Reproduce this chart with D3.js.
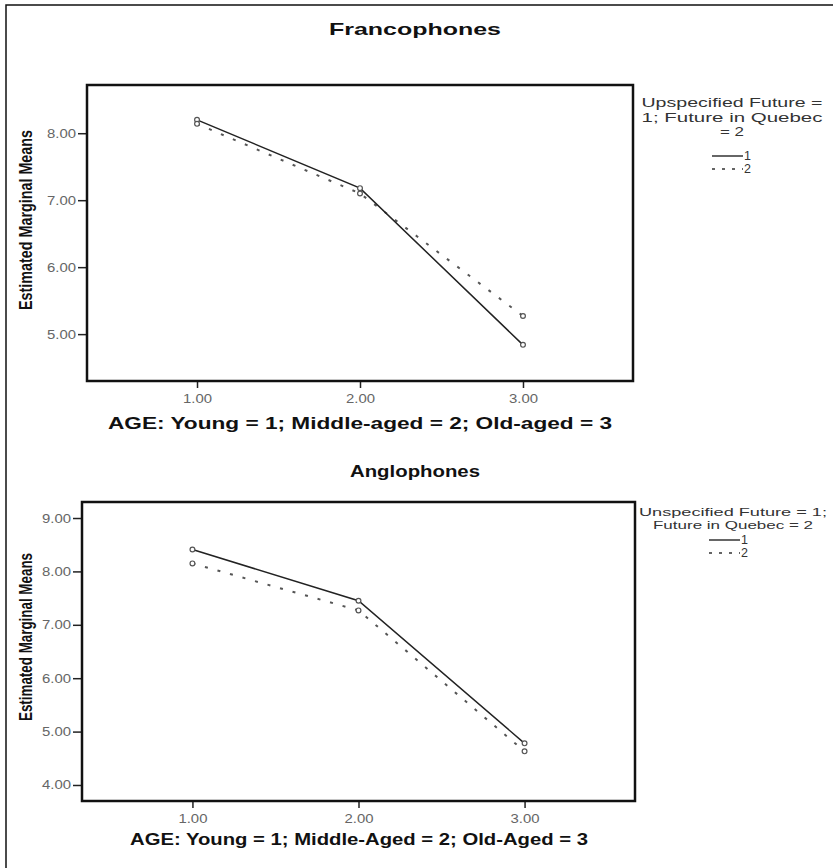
<!DOCTYPE html>
<html>
<head>
<meta charset="utf-8">
<script src="https://cdn.jsdelivr.net/npm/d3@7"></script>
<style>
  body { margin: 0; background: #fff; }
  text { font-family: "Liberation Sans", Arial, sans-serif; }
</style>
</head>
<body>
<div id="chart"></div>
<script>
// estimated marginal means
var ageTicks = [1, 2, 3];
var francoFuture1 = [8.20, 7.18, 4.84];
var francoFuture2 = [8.14, 7.10, 5.27];
var angloFuture1 = [8.41, 7.45, 4.78];
var angloFuture2 = [8.15, 7.27, 4.63];
var francoYTicks = [5, 6, 7, 8];
var angloYTicks = [4, 5, 6, 7, 8, 9];

var svg_width = 833, svg_height = 868;

var svg = d3.select("#chart")
    .append("svg")
    .attr("width", svg_width)
    .attr("height", svg_height);

// outer frame of the output pane (right/bottom are cut off)
svg.append("rect")
    .attr("x", 6).attr("y", 5)
    .attr("width", 900).attr("height", 900)
    .attr("fill", "none")
    .attr("stroke", "#111")
    .attr("stroke-width", 1.5);

function drawPanel(p) {
    var x = d3.scaleLinear().domain(p.xDomain).range([p.left, p.right]);
    var y = d3.scaleLinear().domain(p.yDomain).range([p.bottom, p.top]);

    svg.append("text")
        .attr("x", 415).attr("y", p.titleY)
        .attr("text-anchor", "middle")
        .attr("font-size", 17)
        .attr("font-weight", "bold")
        .attr("textLength", p.titleLen)
        .attr("lengthAdjust", "spacingAndGlyphs")
        .attr("fill", "#111")
        .text(p.title);

    var yAxis = svg.append("g")
        .attr("transform", "translate(" + p.left + ",0)")
        .call(d3.axisLeft(y).tickValues(p.yTicks).tickFormat(d3.format(".2f")).tickSize(9).tickPadding(2));
    yAxis.select(".domain").remove();

    var xAxis = svg.append("g")
        .attr("transform", "translate(0," + p.bottom + ")")
        .call(d3.axisBottom(x).tickValues(ageTicks).tickFormat(d3.format(".2f")).tickSize(7).tickPadding(6));
    xAxis.select(".domain").remove();

    svg.selectAll(".tick line").attr("stroke", "#222").attr("stroke-width", 1.5);
    svg.selectAll(".tick text").attr("fill", "#666").attr("font-size", 12.5)
        .attr("textLength", 29)
        .attr("lengthAdjust", "spacingAndGlyphs")
        .attr("font-family", "'Liberation Sans', Arial, sans-serif");

    svg.append("rect")
        .attr("x", p.left).attr("y", p.top)
        .attr("width", p.right - p.left).attr("height", p.bottom - p.top)
        .attr("fill", "none")
        .attr("stroke", "#111")
        .attr("stroke-width", 2.5);

    var line = d3.line()
        .x(function (d, i) { return x(ageTicks[i]); })
        .y(function (d) { return y(d); });

    svg.append("path")
        .datum(p.s2)
        .attr("d", line)
        .attr("fill", "none")
        .attr("stroke", "#555")
        .attr("stroke-width", 2)
        .attr("stroke-dasharray", "3,10");

    svg.append("path")
        .datum(p.s1)
        .attr("d", line)
        .attr("fill", "none")
        .attr("stroke", "#222")
        .attr("stroke-width", 1.5);

    [p.s1, p.s2].forEach(function (s) {
        svg.selectAll(null)
            .data(s)
            .enter()
            .append("circle")
            .attr("cx", function (d, i) { return x(ageTicks[i]); })
            .attr("cy", function (d) { return y(d); })
            .attr("r", 2.4)
            .attr("fill", "#fff")
            .attr("stroke", "#555")
            .attr("stroke-width", 1.2);
    });

    svg.append("text")
        .attr("x", p.xTitleX).attr("y", p.xTitleY)
        .attr("text-anchor", "middle")
        .attr("font-size", 16)
        .attr("font-weight", "bold")
        .attr("textLength", p.xTitleLen)
        .attr("lengthAdjust", "spacingAndGlyphs")
        .attr("fill", "#111")
        .text(p.xTitle);

    svg.append("text")
        .attr("transform", "translate(" + 32 + "," + p.yTitleY + ") rotate(-90)")
        .attr("text-anchor", "middle")
        .attr("font-size", 18)
        .attr("font-weight", "bold")
        .attr("textLength", p.yTitleLen)
        .attr("lengthAdjust", "spacingAndGlyphs")
        .attr("fill", "#111")
        .text("Estimated Marginal Means");

    var lg = svg.append("g");
    lg.selectAll("text.lt")
        .data(p.legendTitle)
        .enter()
        .append("text")
        .attr("x", p.legendX)
        .attr("y", function (d, i) { return p.legendY + i * p.legendStep; })
        .attr("text-anchor", "middle")
        .attr("font-size", p.legendSize)
        .attr("textLength", function (d, i) { return p.legendLens[i]; })
        .attr("lengthAdjust", "spacingAndGlyphs")
        .attr("fill", "#333")
        .text(function (d) { return d; });

    ["1", "2"].forEach(function (lab, i) {
        var yy = p.entryY + i * 13;
        lg.append("line")
            .attr("x1", p.lineX).attr("x2", p.lineX + 31)
            .attr("y1", yy - 4).attr("y2", yy - 4)
            .attr("stroke", "#333")
            .attr("stroke-width", 1.5)
            .attr("stroke-dasharray", i === 0 ? null : "3,7");
        lg.append("text")
            .attr("x", p.lineX + 32).attr("y", yy)
            .attr("font-size", 12.5)
            .attr("fill", "#333")
            .text(lab);
    });
}

drawPanel({
    title: "Francophones", titleY: 35, titleLen: 172,
    left: 87, right: 633, top: 85, bottom: 381,
    xDomain: [0.325, 3.675], yDomain: [4.3, 8.72],
    yTicks: francoYTicks,
    s1: francoFuture1, s2: francoFuture2,
    xTitle: "AGE: Young = 1; Middle-aged = 2; Old-aged = 3",
    xTitleX: 360, xTitleY: 429, xTitleLen: 504,
    yTitleY: 220, yTitleLen: 180,
    legendTitle: ["Upspecified Future =", "1; Future in Quebec", "= 2"],
    legendLens: [181, 181, 24],
    legendSize: 13.5, legendStep: 14.5,
    legendX: 732, legendY: 107,
    lineX: 712, entryY: 160
});

drawPanel({
    title: "Anglophones", titleY: 477, titleLen: 130,
    left: 82, right: 635, top: 502, bottom: 801,
    xDomain: [0.335, 3.665], yDomain: [3.7, 9.3],
    yTicks: angloYTicks,
    s1: angloFuture1, s2: angloFuture2,
    xTitle: "AGE: Young = 1; Middle-Aged = 2; Old-Aged = 3",
    xTitleX: 359, xTitleY: 845, xTitleLen: 458,
    yTitleY: 637, yTitleLen: 168,
    legendTitle: ["Unspecified Future = 1;", "Future in Quebec = 2"],
    legendLens: [188, 160],
    legendSize: 11.5, legendStep: 13,
    legendX: 733, legendY: 516,
    lineX: 709, entryY: 544
});
</script>
</body>
</html>
